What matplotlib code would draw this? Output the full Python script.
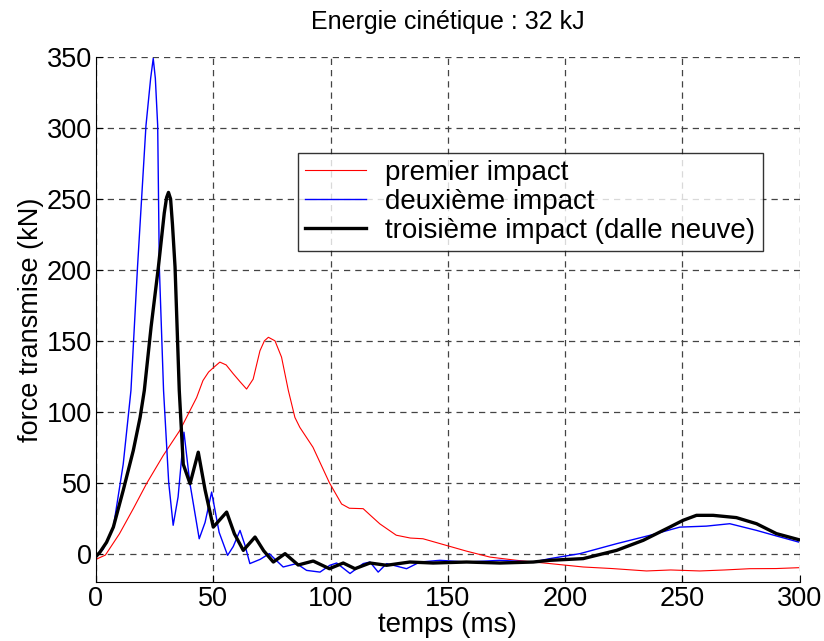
import matplotlib
matplotlib.use("Agg")
import matplotlib.pyplot as plt

# temps (ms) / force transmise (kN)
T_PREMIER = [0, 4, 10, 16, 21.6, 28.6, 35.8, 42.9, 45.6, 48, 50, 52.8, 55.5, 58.5,
             61.5, 64.2, 67, 69.9, 71.8, 73.5, 76.3, 79.1, 82, 84.8, 86.9, 92.5,
             99.5, 104.7, 108, 113.9, 117, 121, 128, 134, 139.4, 149.4, 157.9,
             167.9, 179.3, 193.5, 207.7, 220, 234.7, 245, 257.4, 268, 278.7, 290,
             299.5]
F_PREMIER = [-4, -1, 14, 32, 49.5, 69, 87, 110, 122, 128, 131, 135, 133, 126.8,
             121, 116, 123, 143, 150, 152.5, 150, 138.5, 115, 96, 89, 75,
             50, 35, 32, 31.7, 27, 21, 13, 11, 10.5, 5.8, 1.8,
             -2.4, -4.7, -7, -9.4, -10.5, -12.2, -11.5, -12.2, -11.5, -10.6, -10.5,
             -9.9]

T_DEUXIEME = [0, 3, 7.4, 11.6, 14.9, 17.7, 21.3, 23.3, 24.4, 25.3, 26.3, 27, 28.8,
              31, 32.9, 35, 37.5, 40, 44, 46.5, 49.3, 52.5, 56.1, 58.5, 61.4,
              63.5, 65.6, 70, 73.9, 77, 79.8, 85.5, 89.8, 95.5, 99.7, 102.6, 108.3,
              113.9, 116.8, 120.3, 123.9, 132.4, 138.1, 146.6, 158, 172.2, 186.4,
              193.5, 206.3, 221.9, 236.1, 248.9, 260.2, 270.2, 281.6, 290, 299.5]
F_DEUXIEME = [-2, 3, 18.7, 63, 115, 202, 301.6, 335, 349, 335, 301.6, 202, 115,
              50, 20, 40, 85.6, 50, 10.5, 22, 43.4, 15, -1.2, 5, 16.4,
              6, -7, -4, 0, -5, -9.4, -7, -11.8, -13, -8.2, -6.6, -14,
              -7, -5.9, -13, -7, -10.6, -5.9, -4.7, -5.9, -4.7, -5.9,
              -3.5, 0, 7, 12.9, 18.7, 19.4, 21.1, 16.4, 12.5, 8.2]

T_TROISIEME = [0, 1.7, 4.5, 7.4, 11.6, 15.9, 18.8, 20.6, 23.5, 26.6, 29.1, 30.1,
               30.9, 31.8, 32.6, 33.7, 35.5, 37.2, 40.1, 43.6, 46.5, 50, 55.7, 59,
               62.8, 67.8, 71.5, 75.6, 80.6, 86.2, 92.6, 99.5, 105.4, 110.4, 116.8,
               123.9, 133.8, 143.7, 158, 172.2, 186.4, 193.5, 207.7, 221.9, 233.3,
               244.6, 250.3, 256, 263.1, 273, 281.6, 290.1, 299.5]
F_TROISIEME = [-2, 1.1, 8, 18.7, 44.6, 72.7, 96, 115, 160, 202, 240, 251,
               254.6, 250, 232, 202, 115, 63, 49.3, 71.5, 45, 18.7, 29.3, 14,
               2.3, 11.7, 2, -5.9, 0, -8, -5.2, -10.6, -6.6, -10.6, -6.6,
               -8.2, -5.9, -6.6, -5.9, -6.6, -5.9, -4.7, -3.5, 2.3, 9.4,
               18.7, 23.5, 27, 27, 25.4, 21.1, 14.1, 9.9]

LABELS = ["premier impact", "deuxième impact", "troisième impact (dalle neuve)"]
X_TICKS = [0, 50, 100, 150, 200, 250, 300]
Y_TICKS = [0, 50, 100, 150, 200, 250, 300, 350]

plt.rcParams["font.family"] = ["Liberation Sans", "DejaVu Sans"]

fig = plt.figure(figsize=(8.24, 6.41), dpi=100)
ax = fig.add_axes([0.1165, 0.092, 0.854, 0.819])

ax.plot(T_PREMIER, F_PREMIER, color="#ff0000", linewidth=0.8, label=LABELS[0])
ax.plot(T_DEUXIEME, F_DEUXIEME, color="#0000ff", linewidth=1.0, label=LABELS[1])
ax.plot(T_TROISIEME, F_TROISIEME, color="black", linewidth=2.4, label=LABELS[2])

ax.set_xlim(0, 300)
ax.set_ylim(-20, 350)
ax.set_xticks(X_TICKS)
ax.set_yticks(Y_TICKS)
ax.tick_params(direction="in", length=5, labelsize=19.5, pad=3)
ax.grid(True, linestyle=(0, (5, 4)), color="#444444", linewidth=0.9)
ax.spines["top"].set_visible(False)
ax.spines["right"].set_visible(False)

ax.set_title("Energie cinétique : 32 kJ", fontsize=18, pad=20)
ax.set_xlabel("temps (ms)", fontsize=20, labelpad=0)
ax.set_ylabel("force transmise (kN)", fontsize=19.5, labelpad=2)

leg = ax.legend(loc="upper left", bbox_to_anchor=(0.287, 0.817), borderaxespad=0,
                fontsize=20, frameon=True, fancybox=False, handlelength=2.2,
                labelspacing=0.1, borderpad=0.25, handletextpad=0.7)
leg.get_frame().set_edgecolor("black")
leg.get_frame().set_linewidth(1.0)

fig.savefig("out.png", dpi=100)
